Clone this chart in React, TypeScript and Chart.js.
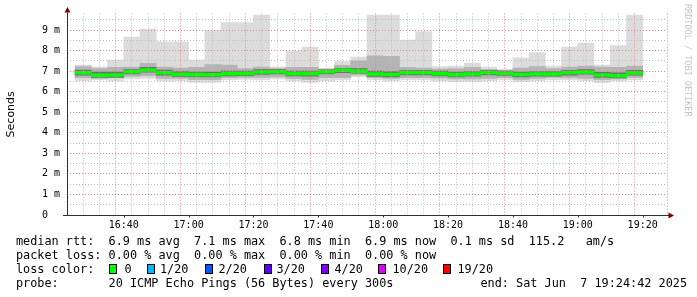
import React, { useEffect, useRef } from 'react';
import { Chart, registerables } from 'chart.js';

Chart.register(...registerables);

// ---- data (5-minute slots, values in ms) ----
const slots = [
  '16:25', '16:30', '16:35', '16:40', '16:45', '16:50', '16:55',
  '17:00', '17:05', '17:10', '17:15', '17:20', '17:25', '17:30', '17:35',
  '17:40', '17:45', '17:50', '17:55', '18:00', '18:05', '18:10', '18:15',
  '18:20', '18:25', '18:30', '18:35', '18:40', '18:45', '18:50', '18:55',
  '19:00', '19:05', '19:10', '19:15',
];
const maxV = [
  7.30, 7.21, 7.54, 8.66, 9.05, 8.43, 8.43,
  7.54, 8.98, 9.36, 9.36, 9.73, 7.21, 7.98, 8.17,
  7.13, 7.47, 7.68, 9.73, 9.73, 8.51, 8.92, 7.22,
  7.25, 7.39, 7.20, 7.09, 7.65, 7.90, 7.25, 8.17,
  8.37, 7.30, 8.24, 9.73,
];
const hiV = [
  7.22, 7.12, 7.18, 7.20, 7.38, 7.20, 7.15,
  7.18, 7.32, 7.30, 7.12, 7.20, 7.12, 7.18, 7.18,
  7.10, 7.28, 7.50, 7.75, 7.72, 7.18, 7.15, 7.10,
  7.12, 7.18, 7.08, 7.04, 7.15, 7.22, 7.12, 7.20,
  7.25, 7.20, 7.18, 7.25,
];
const coreHiV = [
  7.05, 6.95, 6.95, 7.08, 7.18, 7.05, 6.98,
  6.95, 6.95, 7.00, 7.00, 7.08, 7.08, 7.00, 7.00,
  7.06, 7.14, 7.12, 7.00, 6.98, 7.04, 7.04, 7.00,
  6.95, 6.98, 7.04, 7.00, 6.96, 6.98, 6.98, 7.04,
  7.08, 6.94, 6.92, 7.04,
];
const medianV = [
  6.92, 6.80, 6.81, 6.97, 7.06, 6.92, 6.85,
  6.83, 6.82, 6.88, 6.89, 6.96, 6.97, 6.88, 6.88,
  6.97, 7.04, 7.00, 6.86, 6.84, 6.93, 6.93, 6.88,
  6.83, 6.86, 6.93, 6.90, 6.84, 6.86, 6.86, 6.93,
  6.96, 6.81, 6.78, 6.91,
];
const coreLoV = [
  6.80, 6.70, 6.70, 6.86, 6.95, 6.80, 6.74,
  6.72, 6.72, 6.77, 6.78, 6.84, 6.86, 6.77, 6.76,
  6.86, 6.92, 6.90, 6.74, 6.72, 6.82, 6.82, 6.77,
  6.72, 6.75, 6.82, 6.79, 6.72, 6.75, 6.75, 6.80,
  6.85, 6.70, 6.67, 6.80,
];
const loV = [
  6.68, 6.65, 6.68, 6.74, 6.78, 6.65, 6.65,
  6.58, 6.58, 6.68, 6.70, 6.70, 6.72, 6.65, 6.60,
  6.68, 6.68, 6.82, 6.68, 6.65, 6.68, 6.68, 6.66,
  6.62, 6.62, 6.65, 6.68, 6.60, 6.64, 6.70, 6.68,
  6.65, 6.58, 6.62, 6.70,
];
const minV = [
  6.52, 6.57, 6.52, 6.62, 6.65, 6.52, 6.52,
  6.45, 6.45, 6.57, 6.60, 6.57, 6.62, 6.52, 6.45,
  6.52, 6.57, 6.73, 6.57, 6.52, 6.57, 6.57, 6.52,
  6.49, 6.49, 6.52, 6.57, 6.49, 6.52, 6.57, 6.57,
  6.52, 6.44, 6.52, 6.57,
];

const xStart = '16:25';
const xEnd = '19:25';
const slotLength = 5; // minutes
const yMax = 9.8;
const yStep = 0.5;

const statsLines = [
  'median rtt:  6.9 ms avg  7.1 ms max  6.8 ms min  6.9 ms now  0.1 ms sd  115.2   am/s',
  'packet loss: 0.00 % avg  0.00 % max  0.00 % min  0.00 % now',
];
const lossTitle = 'loss color:';
const lossLabels = ['0', '1/20', '2/20', '3/20', '4/20', '10/20', '19/20'];
const lossColors = ['#00ff00', '#00b8ff', '#0059ff', '#5e00ff', '#7e00ff', '#dd00ff', '#ff0000'];
const probeLine = 'probe:       20 ICMP Echo Pings (56 Bytes) every 300s';
const endLine = 'end: Sat Jun  7 19:24:42 2025';
const yTitle = 'Seconds';
const watermark = 'RRDTOOL / TOBI OETIKER';

// legend layout (pixel positions of the loss-colour swatches and their labels)
const swatchX = [109, 147, 205, 264, 321, 378, 443];
const swatchLabelX = [124.5, 160, 218.5, 276.5, 334.5, 392.5, 457.5];

const MONO = '"DejaVu Sans Mono", monospace';
const MINOR_GRID = 'rgba(185,185,185,0.95)';
const MAJOR_GRID = 'rgba(228,130,130,0.95)';

function toMin(s: string): number {
  const [h, m] = s.split(':').map(Number);
  return h * 60 + m;
}
function fmtMin(v: number): string {
  const h = Math.floor(v / 60);
  const m = v % 60;
  return `${h}:${m < 10 ? '0' + m : m}`;
}

const axesPlugin = {
  id: 'rrdAxes',
  afterDraw(chart: any) {
    const { ctx, chartArea: ca, scales } = chart;
    const x0 = Math.round(ca.left) + 0.5;
    const y0 = Math.round(ca.bottom) + 0.5;
    ctx.save();
    ctx.strokeStyle = '#303030';
    ctx.lineWidth = 1;
    ctx.beginPath();
    ctx.moveTo(x0, y0);
    ctx.lineTo(x0, ca.top - 1);
    ctx.moveTo(ca.left - 4, y0);
    ctx.lineTo(ca.right + 2, y0);
    scales.x.ticks.forEach((t: any) => {
      if (t.value % 20 === 0) {
        const px = Math.round(scales.x.getPixelForValue(t.value)) + 0.5;
        ctx.moveTo(px, y0);
        ctx.lineTo(px, y0 + 2);
      }
    });
    ctx.stroke();
    ctx.fillStyle = '#800000';
    ctx.beginPath();
    ctx.moveTo(x0 - 3, ca.top - 1);
    ctx.lineTo(x0 + 3, ca.top - 1);
    ctx.lineTo(x0, ca.top - 6.5);
    ctx.closePath();
    ctx.fill();
    ctx.beginPath();
    ctx.moveTo(ca.right + 1.5, y0 - 3);
    ctx.lineTo(ca.right + 1.5, y0 + 3);
    ctx.lineTo(ca.right + 7, y0);
    ctx.closePath();
    ctx.fill();
    ctx.restore();
  },
};

export default function App() {
  const canvasRef = useRef<HTMLCanvasElement | null>(null);

  useEffect(() => {
    const canvas = canvasRef.current;
    if (!canvas) return;
    const xs = slots.map((s) => toMin(s) + slotLength / 2);
    const band = (lo: number[], hi: number[]) => xs.map((x, i) => ({ x, y: [lo[i], hi[i]] }));
    const medBand = xs.map((x, i) => ({ x, y: [medianV[i] - 0.07, medianV[i] + 0.07] }));
    const common = {
      grouped: false,
      barPercentage: 1,
      categoryPercentage: 1,
      borderWidth: 0,
    };
    const xMin = toMin(xStart);
    const xMax = toMin(xEnd);

    const chart = new Chart(canvas, {
      type: 'bar',
      data: {
        datasets: [
          { ...common, label: 'median', data: medBand as any, backgroundColor: lossColors[0], order: 1 },
          { ...common, label: 'core', data: band(coreLoV, coreHiV) as any, backgroundColor: '#707070', order: 2 },
          { ...common, label: 'inner', data: band(loV, hiV) as any, backgroundColor: '#b4b4b4', order: 3 },
          { ...common, label: 'range', data: band(minV, maxV) as any, backgroundColor: '#dcdcdc', order: 4 },
        ],
      },
      options: {
        responsive: false,
        animation: false,
        events: [],
        layout: { padding: { left: 0, right: 30, top: 13.6, bottom: 62 } },
        plugins: { legend: { display: false }, tooltip: { enabled: false } },
        scales: {
          x: {
            type: 'linear',
            min: xMin,
            max: xMax,
            afterFit: (s: any) => { s.height = 20; },
            grid: {
              z: 1,
              drawTicks: false,
              lineWidth: 1,
              color: (c: any) => {
                const v = c.tick ? c.tick.value : 0;
                if (v === xMax || v === xMin) return 'rgba(0,0,0,0)';
                return v % 20 === 0 ? MAJOR_GRID : MINOR_GRID;
              },
            },
            border: { display: false, dash: [1, 2] },
            ticks: {
              stepSize: slotLength,
              autoSkip: false,
              maxRotation: 0,
              minRotation: 0,
              padding: 4,
              color: '#000',
              font: { family: MONO, size: 10 },
              callback: (v: any) => (Number(v) % 20 === 0 ? fmtMin(Number(v)) : ''),
            },
          },
          y: {
            type: 'linear',
            min: 0,
            max: yMax,
            afterFit: (s: any) => { s.width = 67; },
            grid: {
              z: 1,
              drawTicks: false,
              lineWidth: 1,
              color: (c: any) => {
                const v = c.tick ? c.tick.value : 0;
                if (v === 0) return 'rgba(0,0,0,0)';
                const k = Math.round(v * 2);
                if (Math.abs(v * 2 - k) > 1e-6) return 'rgba(0,0,0,0)';
                return k % 2 === 0 ? MAJOR_GRID : MINOR_GRID;
              },
            },
            border: { display: false, dash: [1, 2] },
            ticks: {
              stepSize: yStep,
              includeBounds: false,
              autoSkip: false,
              crossAlign: 'near',
              padding: 7,
              color: '#000',
              font: { family: MONO, size: 10 },
              callback: (v: any) => {
                const n = Number(v);
                if (Math.abs(n - Math.round(n)) > 1e-6) return '';
                return n === 0 ? '0  ' : `${Math.round(n)} m`;
              },
            },
            title: {
              display: true,
              text: yTitle,
              color: '#000',
              font: { family: '"DejaVu Sans", sans-serif', size: 11 },
              padding: { top: 4.1, bottom: 0 },
            },
          },
        },
      } as any,
      plugins: [axesPlugin],
    });
    return () => chart.destroy();
  }, []);

  const lineStyle = (top: number): React.CSSProperties => ({
    position: 'absolute',
    left: 16,
    top,
    fontFamily: MONO,
    fontSize: '11.83px',
    lineHeight: '14px',
    whiteSpace: 'pre',
    color: '#000',
  });

  return (
    <div style={{ position: 'fixed', left: 0, top: 0, width: 697, height: 297, background: '#fff', overflow: 'hidden' }}>
      <canvas ref={canvasRef} width={697} height={297} style={{ position: 'absolute', left: 0, top: 0, width: 697, height: 297 }} />
      <div style={{
        position: 'absolute', left: 683.5, top: 4, writingMode: 'vertical-rl', fontFamily: MONO,
        fontSize: '8.5px', lineHeight: '8px', color: '#c4c4c4', whiteSpace: 'pre',
      }}>{watermark}</div>
      <div style={lineStyle(234.2)}>{statsLines[0]}</div>
      <div style={lineStyle(248.2)}>{statsLines[1]}</div>
      <div style={lineStyle(262.2)}>{lossTitle}</div>
      {lossLabels.map((lab, i) => (
        <React.Fragment key={lab}>
          <div style={{
            position: 'absolute', left: swatchX[i], top: 264, width: 8, height: 10,
            boxSizing: 'border-box', border: '1px solid #000', background: lossColors[i],
          }} />
          <div style={{ ...lineStyle(262.2), left: swatchLabelX[i] }}>{lab}</div>
        </React.Fragment>
      ))}
      <div style={lineStyle(276.2)}>{probeLine}</div>
      <div style={{ ...lineStyle(276.2), left: 480.5 }}>{endLine}</div>
    </div>
  );
}
